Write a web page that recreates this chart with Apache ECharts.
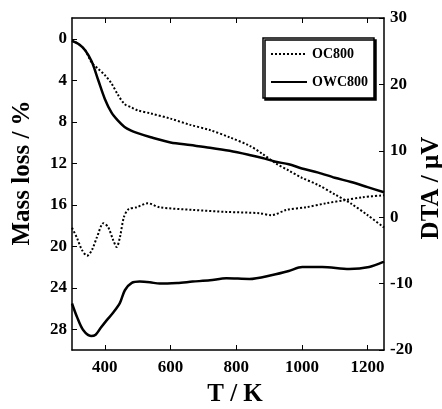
<!DOCTYPE html>
<html><head><meta charset="utf-8">
<script src="https://cdn.jsdelivr.net/npm/echarts@6/dist/echarts.min.js"></script>
<style>html,body{margin:0;padding:0;background:#fff}#c{width:442px;height:409px}</style>
</head><body><div id="c"></div>
<script>
// Temperature (K) sample points and values
const massT_OC = [300, 320, 340, 360, 380, 400, 420, 440, 460, 480, 500, 540, 600, 660, 720, 780, 840, 880, 920, 960, 1000, 1050, 1100, 1150, 1200, 1250];
const massOC   = [0.2, 0.5, 1.1, 2.3, 2.9, 3.5, 4.3, 5.4, 6.3, 6.6, 6.9, 7.2, 7.7, 8.3, 8.8, 9.5, 10.3, 11.1, 12.0, 12.7, 13.4, 14.1, 15.0, 15.9, 17.0, 18.2];
const massT_OWC = [300, 320, 340, 360, 380, 400, 420, 440, 460, 480, 500, 540, 600, 660, 720, 780, 840, 880, 920, 960, 1000, 1050, 1100, 1150, 1200, 1250];
const massOWC   = [0.2, 0.5, 1.1, 2.2, 4.0, 5.8, 7.1, 7.9, 8.5, 8.85, 9.1, 9.5, 10.0, 10.25, 10.5, 10.8, 11.2, 11.5, 11.85, 12.1, 12.5, 12.9, 13.4, 13.8, 14.3, 14.8];
const dtaT_OC = [300, 315, 330, 346, 361, 376, 396, 410, 425, 436, 446, 458, 472, 497, 531, 567, 667, 770, 871, 907, 953, 1013, 1074, 1135, 1184, 1250];
const dtaOC   = [-1.6, -3.1, -4.9, -5.8, -4.9, -3.0, -0.9, -1.5, -3.4, -4.5, -3.0, 0.0, 1.2, 1.5, 2.1, 1.5, 1.1, 0.8, 0.6, 0.3, 1.1, 1.5, 2.1, 2.6, 3.0, 3.3];
const dtaT_OWC = [300, 315, 334, 358, 372, 387, 406, 425, 446, 461, 482, 506, 537, 567, 620, 667, 720, 770, 840, 910, 960, 1001, 1062, 1144, 1205, 1250];
const dtaOWC   = [-13.0, -15.0, -17.0, -17.9, -17.7, -16.7, -15.5, -14.4, -12.9, -11.0, -9.9, -9.7, -9.8, -10.0, -9.9, -9.7, -9.5, -9.2, -9.3, -8.7, -8.1, -7.5, -7.5, -7.8, -7.5, -6.7];
const xTicks = [400, 600, 800, 1000, 1200];
const massTicks = [0, 4, 8, 12, 16, 20, 24, 28];
const dtaTicks = [-20, -10, 0, 10, 20, 30];

const pair = (xs, ys) => xs.map((x, i) => [x, ys[i]]);
const FONT = '"Liberation Serif", "Times New Roman", serif';
const lbl = {fontFamily: FONT, fontWeight: 'bold', fontSize: 17, color: '#000', formatter: v => String(v)};
const axLine = {show: true, onZero: false, lineStyle: {color: '#000', width: 1.5}};
const tick = vals => ({inside: true, length: 5, customValues: vals, lineStyle: {color: '#000', width: 1}});

const chart = echarts.init(document.getElementById('c'));
chart.setOption({
  animation: false,
  backgroundColor: '#fff',
  grid: {left: 72, right: 58, top: 18, bottom: 59, containLabel: false},
  legend: {
    data: ['OC800', 'OWC800'],
    orient: 'vertical', left: 263, top: 38,
    itemWidth: 36, itemHeight: 14, itemGap: 14,
    padding: [9, 6, 9, 7],
    itemStyle: {opacity: 0},
    backgroundColor: '#fff', borderColor: '#000', borderWidth: 1.5, borderRadius: 0,
    shadowColor: '#000', shadowOffsetX: 2, shadowOffsetY: 2, shadowBlur: 0,
    textStyle: {fontFamily: FONT, fontWeight: 'bold', fontSize: 14, color: '#000'}
  },
  xAxis: [
    {type: 'value', min: 300, max: 1250, position: 'bottom',
     axisLine: axLine, splitLine: {show: false}, axisTick: tick(xTicks),
     axisLabel: Object.assign({margin: 9, customValues: xTicks}, lbl)},
    {type: 'value', min: 300, max: 1250, position: 'top',
     axisLine: axLine, splitLine: {show: false}, axisTick: tick(xTicks),
     axisLabel: {show: false}}
  ],
  yAxis: [
    {type: 'value', min: -2, max: 30, inverse: true, position: 'left',
     axisLine: axLine, splitLine: {show: false}, axisTick: tick(massTicks),
     axisLabel: Object.assign({margin: 5, customValues: massTicks}, lbl)},
    {type: 'value', min: -20, max: 30, interval: 10, position: 'right',
     axisLine: axLine, splitLine: {show: false}, axisTick: tick(dtaTicks),
     axisLabel: Object.assign({margin: 6, customValues: dtaTicks}, lbl)}
  ],
  series: [
    {name: 'OC800', type: 'line', xAxisIndex: 0, yAxisIndex: 0, data: pair(massT_OC, massOC),
     smooth: 0.3, symbol: 'none', lineStyle: {color: '#000', width: 2, type: [2, 2]}, itemStyle: {color: '#000'}},
    {name: 'OWC800', type: 'line', xAxisIndex: 0, yAxisIndex: 0, data: pair(massT_OWC, massOWC),
     smooth: 0.3, symbol: 'none', lineStyle: {color: '#000', width: 2.5}, itemStyle: {color: '#000'}},
    {name: 'OC800 DTA', type: 'line', xAxisIndex: 0, yAxisIndex: 1, data: pair(dtaT_OC, dtaOC),
     smooth: 0.3, symbol: 'none', lineStyle: {color: '#000', width: 2, type: [2, 2]}},
    {name: 'OWC800 DTA', type: 'line', xAxisIndex: 0, yAxisIndex: 1, data: pair(dtaT_OWC, dtaOWC),
     smooth: 0.3, symbol: 'none', lineStyle: {color: '#000', width: 2.5}}
  ],
  graphic: [
    {type: 'text', x: 23, y: 173, rotation: Math.PI / 2,
     style: {text: 'Mass loss / %', font: 'bold 25px ' + FONT, fill: '#000', align: 'center', verticalAlign: 'middle'}},
    {type: 'text', x: 432, y: 188, rotation: Math.PI / 2,
     style: {text: 'DTA / µV', font: 'bold 25px ' + FONT, fill: '#000', align: 'center', verticalAlign: 'middle'}},
    {type: 'text', x: 235, y: 395,
     style: {text: 'T / K', font: 'bold 25px ' + FONT, fill: '#000', align: 'center', verticalAlign: 'middle'}}
  ]
});
</script></body></html>
